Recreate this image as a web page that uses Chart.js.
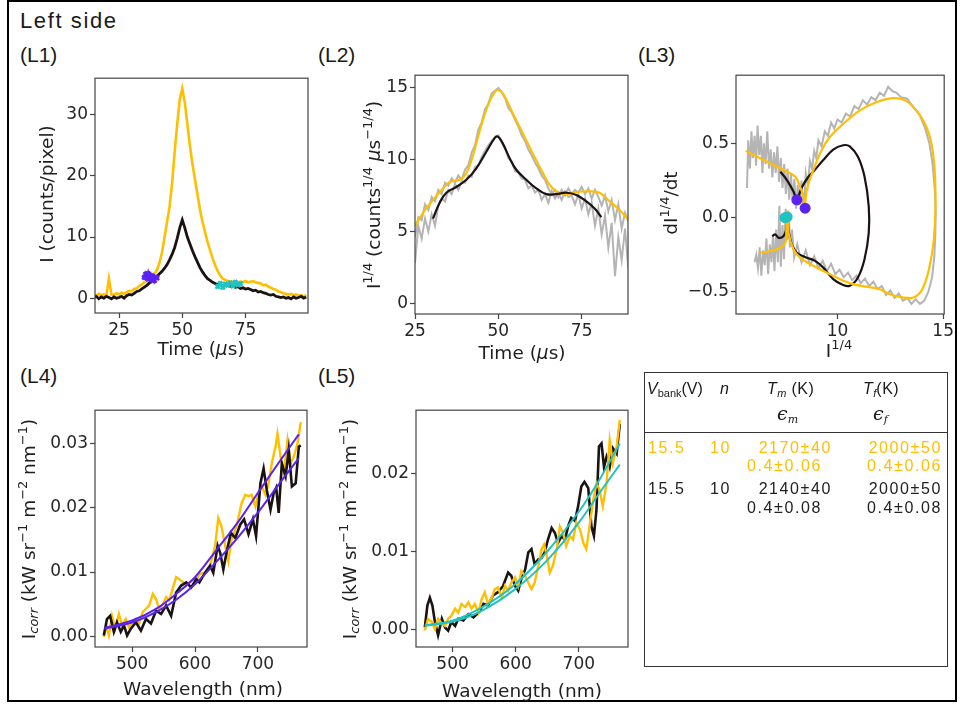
<!DOCTYPE html>
<html>
<head>
<meta charset="utf-8">
<script src="https://cdn.jsdelivr.net/npm/chart.js@4.4.1/dist/chart.umd.min.js"></script>
<style>
  body { margin: 0; background: #fff; }
  #fig { position: relative; width: 961px; height: 710px; background: #fff; overflow: hidden;
         font-family: "Liberation Sans", Arial, sans-serif; color: #1a1a1a; }
  #frame { position: absolute; left: 7px; top: 0; width: 950px; height: 702px;
           border: 2px solid #000; box-sizing: border-box; }
  canvas { position: absolute; }
  .lbl { position: absolute; font-size: 21px; line-height: 21px; white-space: nowrap; }
  #tbl { position: absolute; left: 644px; top: 372px; width: 304px; height: 295px;
         border: 1.5px solid #333; box-sizing: border-box; }
  #tbl .hline { position: absolute; left: 0; right: 0; top: 59px; border-top: 1.5px solid #333; }
  .t { position: absolute; font-size: 16px; line-height: 16px; letter-spacing: 1.6px; white-space: nowrap; }
  .yel { color: #ffbf00; }
  .blk { color: #222; }
  .eps { font-family: "DejaVu Serif", serif; font-style: italic; font-size: 19px; letter-spacing: 0; }
  sub { font-size: 11px; vertical-align: -3px; letter-spacing: 0; }
</style>
</head>
<body>
<div id="fig">
  <div id="frame"></div>
  <div class="lbl" style="left:20px;top:10px;font-size:22px;line-height:22px;letter-spacing:1.6px">Left side</div>
  <div class="lbl" style="left:20px;top:44px">(L1)</div>
  <div class="lbl" style="left:318px;top:44px">(L2)</div>
  <div class="lbl" style="left:638px;top:44px">(L3)</div>
  <div class="lbl" style="left:20px;top:365px">(L4)</div>
  <div class="lbl" style="left:318px;top:365px">(L5)</div>

  <div id="tbl"><div class="hline"></div></div>
  <div class="t" style="left:647px;top:381px;letter-spacing:0"><i>V</i><sub>bank</sub>(V)</div>
  <div class="t" style="left:720px;top:381px"><i>n</i></div>
  <div class="t" style="left:767px;top:381px;letter-spacing:0.5px"><i>T</i><sub><i>m</i></sub> (K)</div>
  <div class="t" style="left:863px;top:381px;letter-spacing:0.5px"><i>T</i><sub><i>f</i></sub>(K)</div>
  <div class="t eps" style="left:777px;top:405px">ϵ<sub><i>m</i></sub></div>
  <div class="t eps" style="left:873px;top:405px">ϵ<sub><i>f</i></sub></div>

  <div class="t yel" style="left:648px;top:440px">15.5</div>
  <div class="t yel" style="left:710px;top:440px">10</div>
  <div class="t yel" style="right:129px;top:440px">2170±40</div>
  <div class="t yel" style="right:139px;top:458px">0.4±0.06</div>
  <div class="t yel" style="right:19px;top:440px">2000±50</div>
  <div class="t yel" style="right:19px;top:458px">0.4±0.06</div>

  <div class="t blk" style="left:648px;top:481px">15.5</div>
  <div class="t blk" style="left:710px;top:481px">10</div>
  <div class="t blk" style="right:129px;top:481px">2140±40</div>
  <div class="t blk" style="right:139px;top:500px">0.4±0.08</div>
  <div class="t blk" style="right:19px;top:481px">2000±50</div>
  <div class="t blk" style="right:19px;top:500px">0.4±0.08</div>
</div>

<script>
// ---------- colours ----------
const YEL = '#ffbf00', BLK = '#1b1212', GRY = '#b4b4b4', PUR = '#5a22ee', CYA = '#22c2c2';

// ---------- L1: intensity vs time (1 us sampling from 15 us) ----------
const l1Time = Array.from({ length: 85 }, (_, i) => 15 + i);
const l1Yellow = [0.6, 0.4, 0.7, 0.5, 0.6, 0.4, 3.2, 0.6, 0.5, 0.8, 0.6, 0.9, 0.7, 1.0, 1.2, 1.1, 1.5, 1.6, 2.0, 2.2,
  2.6, 2.9, 3.3, 3.6, 4.0, 4.6, 5.8, 7.5, 10.0, 12.5, 15.0, 19.0, 24.0, 28.5, 32.5, 34.3, 32.0, 28.5, 25.0, 22.0,
  19.5, 17.0, 14.5, 12.5, 10.8, 9.2, 7.8, 6.5, 5.4, 4.4, 3.7, 3.2, 3.0, 2.8, 2.7, 2.6, 2.7, 2.5, 2.7, 2.6,
  2.8, 2.6, 2.7, 2.8, 2.6, 2.5, 2.4, 2.1, 2.2, 1.9, 1.7, 1.5, 1.4, 1.1, 1.0, 0.8, 0.7, 0.6, 0.7, 0.5,
  0.6, 0.4, 0.5, 0.3, 0.5];
const l1Black = [0.1, 0.3, -0.1, 0.2, 0.0, 0.3, 0.1, -0.1, 0.2, 0.0, 0.1, 0.3, 0.0, 0.4, 0.6, 0.5, 0.8, 1.1, 1.2, 1.5,
  1.8, 2.1, 2.5, 2.8, 3.2, 3.6, 4.0, 4.4, 4.9, 5.5, 6.3, 7.2, 8.3, 9.8, 11.5, 12.8, 11.5, 10.0, 8.9, 7.8,
  6.8, 5.9, 5.0, 4.3, 3.7, 3.2, 2.9, 2.6, 2.4, 2.2, 2.2, 2.1, 2.0, 2.1, 1.9, 2.0, 1.8, 1.9, 1.6, 1.7,
  1.5, 1.6, 1.4, 1.2, 1.3, 1.0, 1.1, 0.9, 0.8, 0.6, 0.5, 0.6, 0.3, 0.2, 0.1, 0.2, 0.0, 0.1, -0.1, 0.2,
  0.0, 0.1, 0.3, 0.0, 0.2];
const l1RiseT = [35, 35.5, 36, 36.5, 37, 37.5, 38, 38.5, 39, 39.5, 40];
const l1RiseI = [3.4, 3.9, 3.3, 4.0, 3.2, 3.7, 3.0, 3.5, 2.9, 3.4, 3.3];
const l1FallT = [64, 65, 66, 67, 68, 69, 70, 71, 72, 73];
const l1FallI = [1.9, 2.4, 1.8, 2.3, 2.1, 2.5, 2.0, 2.6, 2.2, 2.4];

// ---------- L2: I^(1/4) vs time ----------
const l2RawT = Array.from({ length: 65 }, (_, i) => 25 + i);
const l2RawYellow = [4.6, 6.0, 5.8, 6.9, 6.5, 7.4, 7.1, 7.9, 7.6, 8.4, 8.2, 8.7, 8.4, 8.9, 8.6, 9.3, 9.6, 10.5, 11.0, 12.1,
  12.6, 13.5, 13.9, 14.6, 14.8, 15.0, 14.7, 14.3, 13.6, 13.3, 12.8, 12.3, 11.7, 11.3, 10.7, 10.3, 9.8, 9.4, 8.9, 8.6,
  8.0, 7.6, 7.9, 7.4, 7.9, 7.5, 8.0, 7.6, 7.9, 7.7, 8.1, 7.6, 8.0, 7.3, 7.9, 7.4, 6.8, 7.5, 6.4, 7.2,
  5.8, 6.9, 5.2, 6.3, 5.7];
const l2RawBlack = [2.8, 5.4, 4.5, 5.9, 5.0, 6.2, 5.4, 6.8, 7.3, 7.1, 7.9, 7.6, 8.3, 7.9, 8.5, 8.4, 8.9, 8.8, 9.5, 9.6,
  10.2, 10.6, 11.0, 11.3, 11.6, 11.7, 11.2, 10.8, 10.1, 9.9, 9.2, 9.1, 8.7, 8.6, 8.0, 8.2, 7.7, 7.9, 7.2, 7.6,
  7.0, 7.8, 7.3, 7.7, 7.2, 7.8, 7.4, 7.5, 6.9, 7.6, 6.6, 7.3, 6.2, 7.0, 5.4, 6.6, 4.8, 6.1, 3.9, 5.6,
  1.9, 4.6, 3.0, 5.2, 2.4];
const l2FitYellowT = [25, 27.4, 30.4, 33.4, 35.4, 38.4, 40.4, 42.4, 44.4, 46.9, 48.9, 49.9, 51.4, 54.4, 57.4, 60.4,
  63.4, 65.4, 67.4, 70.4, 73.4, 77.4, 80.4, 83.4, 86.4, 88.9];
const l2FitYellow = [5.38, 6.3, 7.2, 8.0, 8.45, 8.6, 9.06, 10.3, 12.0, 13.8, 14.7, 14.85, 14.6, 13.2, 11.8, 10.4,
  9.06, 8.25, 7.8, 7.6, 7.75, 7.8, 7.7, 7.1, 6.5, 5.85];
const l2FitBlackT = [30.4, 32.4, 34.4, 37.4, 40.4, 43.4, 46.4, 48.9, 49.9, 51.4, 53.4, 55.4, 58.4, 61.4, 64.4, 67.4,
  70.4, 73.4, 76.4, 78.9, 80.9];
const l2FitBlack = [5.9, 7.0, 7.7, 8.1, 8.6, 9.4, 10.55, 11.5, 11.6, 11.1, 10.1, 9.3, 8.6, 8.0, 7.6, 7.6,
  7.7, 7.55, 7.1, 6.6, 6.0];

// ---------- L3: phase portrait dI^(1/4)/dt vs I^(1/4) ----------
const l3RawI = [5.72, 5.78, 5.86, 5.93, 6.0, 6.08, 6.15, 6.22, 6.3, 6.38, 6.45, 6.52, 6.6, 6.68, 6.76, 6.84, 6.92, 7.0,
  7.08, 7.16, 7.24, 7.32, 7.4, 7.48, 7.56, 7.64, 7.72, 7.8, 7.88, 7.96, 8.04, 8.12, 8.2, 8.3, 8.38, 8.45,
  8.5, 8.6, 8.7, 8.8, 8.9, 9.0, 9.1, 9.25, 9.4, 9.55, 9.7, 9.85, 10.0, 10.2, 10.4, 10.6, 10.8, 11.0, 11.2, 11.4,
  11.6, 11.8, 12.0, 12.2, 12.4, 12.6, 12.8, 13.0, 13.3, 13.6, 13.9, 14.15, 14.35, 14.5, 14.6, 14.65, 14.63, 14.58,
  14.48, 14.3, 14.1, 13.9, 13.7, 13.5, 13.3, 13.1, 12.9, 12.7, 12.5, 12.3, 12.1, 11.9, 11.7, 11.5, 11.3, 11.1,
  10.9, 10.7, 10.5, 10.3, 10.1, 9.9, 9.7, 9.5, 9.3, 9.1, 8.9, 8.7, 8.5, 8.3, 8.1, 7.95, 7.85, 7.75, 7.7, 7.62,
  7.55, 7.47, 7.4, 7.32, 7.25, 7.18, 7.1, 7.02, 6.95, 6.88, 6.8, 6.72, 6.64, 6.56, 6.48, 6.4, 6.32, 6.24, 6.16, 6.08];
const l3RawD = [0.20, 0.52, 0.33, 0.58, 0.40, 0.55, 0.35, 0.62, 0.42, 0.55, 0.30, 0.50, 0.36, 0.58, 0.33, 0.46, 0.27, 0.44,
  0.30, 0.48, 0.24, 0.40, 0.20, 0.36, 0.16, 0.33, 0.12, 0.30, 0.10, 0.26, 0.06, 0.22, 0.10, 0.25, 0.05, 0.16,
  0.30, 0.22, 0.38, 0.33, 0.45, 0.40, 0.52, 0.48, 0.58, 0.55, 0.64, 0.60, 0.66, 0.64, 0.70, 0.68, 0.75, 0.73, 0.79, 0.76,
  0.81, 0.79, 0.84, 0.82, 0.88, 0.85, 0.84, 0.81, 0.80, 0.74, 0.69, 0.60, 0.50, 0.36, 0.20, 0.05, -0.12, -0.27,
  -0.40, -0.50, -0.56, -0.58, -0.55, -0.58, -0.54, -0.56, -0.51, -0.54, -0.49, -0.52, -0.46, -0.48, -0.43, -0.46, -0.41, -0.44,
  -0.39, -0.42, -0.37, -0.40, -0.35, -0.38, -0.31, -0.36, -0.29, -0.34, -0.26, -0.32, -0.22, -0.30, -0.18, -0.27, -0.08, -0.20, 0.04, -0.15,
  0.06, -0.28, -0.05, -0.33, 0.08, -0.30, -0.08, -0.36, -0.12, -0.30, -0.18, -0.38, -0.14, -0.32, -0.22, -0.39, -0.20, -0.34, -0.25, -0.30];
const l3YellowI = [5.66, 6.67, 7.45, 8.0, 8.23, 8.39, 8.45, 8.55, 8.86, 9.25, 9.64, 10.27, 11.05, 11.83, 12.61, 13.23,
  13.86, 14.33, 14.56, 14.64, 14.56, 14.33, 14.02, 13.63, 13.08, 12.45, 11.98, 11.36, 10.73, 10.11, 9.48, 8.86,
  8.23, 7.92, 7.69, 7.66, 7.58, 7.53, 7.14, 6.36];
const l3YellowD = [0.449, 0.376, 0.32, 0.276, 0.209, 0.142, 0.076, 0.187, 0.32, 0.453, 0.542, 0.631, 0.72, 0.776, 0.804, 0.787,
  0.698, 0.564, 0.387, 0.12, -0.147, -0.347, -0.48, -0.536, -0.536, -0.513, -0.48, -0.464, -0.447, -0.413, -0.369, -0.324,
  -0.269, -0.213, -0.102, 0.042, -0.08, -0.169, -0.213, -0.236];
const l3BlackI = [7.3, 7.61, 7.92, 8.08, 8.3, 8.6, 8.86, 9.33, 9.8, 10.27, 10.58, 10.97, 11.28, 11.48, 11.48, 11.28,
  10.97, 10.58, 10.27, 9.8, 9.33, 8.94, 8.55, 8.08, 7.84, 7.69, 7.64, 7.58, 7.45, 7.22, 7.06, 6.91];
const l3BlackD = [0.309, 0.253, 0.176, 0.124, 0.2, 0.27, 0.31, 0.387, 0.458, 0.487, 0.48, 0.409, 0.276, 0.076, -0.102, -0.28,
  -0.402, -0.458, -0.453, -0.413, -0.336, -0.291, -0.269, -0.236, -0.18, -0.091, -0.013, -0.08, -0.124, -0.136, -0.113, -0.124];
const l3RiseI = [8.08, 8.47], l3RiseD = [0.12, 0.064];
const l3FallI = [7.52, 7.62], l3FallD = [0.0, 0.005];

// ---------- L4: corrected spectra, rising window ----------
const l4YellowW = [455, 459, 463, 468, 473, 479, 484, 490, 495, 500, 506, 511, 517, 522, 527, 533, 538, 543, 549, 554,
  559, 570, 575, 581, 586, 591, 597, 602, 607, 616, 624, 632, 637, 642, 648, 653, 658, 666, 674, 680,
  685, 690, 696, 701, 706, 712, 717, 722, 728, 731, 736, 741, 747, 752, 757, 763, 768];
const l4Yellow = [-0.0001, 0.0017, 0.00015, 0.0032, 0.0012, 0.0035, 0.0017, 0.0027, 0.0014, 0.0022, 0.0027, 0.0020, 0.0038,
  0.0043, 0.0048, 0.0066, 0.0058, 0.0043, 0.0050, 0.0061, 0.0056, 0.0092, 0.0089, 0.0084, 0.0079, 0.0084, 0.0089,
  0.0086, 0.0097, 0.0099, 0.0110, 0.0141, 0.0184, 0.0171, 0.0141, 0.0117, 0.0151, 0.0171, 0.0207, 0.0220, 0.0218,
  0.0220, 0.0202, 0.0225, 0.0233, 0.0220, 0.0238, 0.0269, 0.0295, 0.0315, 0.0279, 0.0254, 0.0305, 0.0269, 0.0279,
  0.0300, 0.0333];
const l4BlackW = [455, 460, 465, 471, 476, 482, 487, 492, 498, 506, 514, 522, 530, 538, 546, 554, 562, 570, 578, 586,
  594, 602, 607, 616, 624, 629, 636, 640, 645, 650, 657, 664, 672, 678, 685, 692, 697, 704, 709, 714,
  720, 725, 729, 733, 738, 744, 749, 754, 760, 765, 768];
const l4Black = [0.00015, 0.0027, 0.0032, 0.0007, 0.0022, 0.0007, 0.0017, 0.00015, 0.0012, 0.0022, 0.0009, 0.0027, 0.0020,
  0.0040, 0.0035, 0.0048, 0.0032, 0.0068, 0.0079, 0.0084, 0.0076, 0.0089, 0.0084, 0.0099, 0.0110, 0.0099, 0.0141,
  0.0130, 0.0104, 0.0130, 0.0161, 0.0153, 0.0174, 0.0182, 0.0159, 0.0182, 0.0156, 0.0238, 0.0261, 0.0228, 0.0197,
  0.0223, 0.0231, 0.0192, 0.0269, 0.0249, 0.0290, 0.0233, 0.0238, 0.0295, 0.0297];
const l4FitW = [456, 501, 540, 570, 600, 633, 670, 702, 733, 765];
const l4FitYellow = [0.0013, 0.0025, 0.0044, 0.0066, 0.0092, 0.0133, 0.0180, 0.0226, 0.0270, 0.0314];
const l4FitBlack = [0.0012, 0.0022, 0.0039, 0.0057, 0.0081, 0.0115, 0.0156, 0.0195, 0.0236, 0.0277];

// ---------- L5: corrected spectra, falling window ----------
const l5YellowW = [456, 461, 467, 472, 477, 483, 488, 493, 498, 504, 509, 514, 520, 525, 530, 535, 541, 546, 551, 556,
  562, 567, 572, 578, 583, 588, 593, 599, 604, 609, 615, 620, 625, 630, 636, 641, 645, 649, 654, 659,
  665, 670, 675, 680, 686, 691, 696, 702, 707, 712, 717, 723, 728, 733, 738, 744, 749, 754, 760, 765];
const l5Yellow = [-0.0001, 0.0014, 0.0010, 0.0001, 0.0014, 0.0008, 0.0005, 0.0014, 0.0018, 0.0027, 0.0022, 0.0033, 0.0029,
  0.0035, 0.0027, 0.0033, 0.0022, 0.0039, 0.0048, 0.0033, 0.0041, 0.0052, 0.0054, 0.0041, 0.0056, 0.0050, 0.0060,
  0.0067, 0.0056, 0.0075, 0.0069, 0.0060, 0.0052, 0.0060, 0.0082, 0.0103, 0.0109, 0.0096, 0.0073, 0.0082, 0.0103,
  0.0132, 0.0124, 0.0107, 0.0120, 0.0115, 0.0137, 0.0128, 0.0111, 0.0103, 0.0132, 0.0166, 0.0187, 0.0179, 0.0158,
  0.0187, 0.0242, 0.0213, 0.0234, 0.0268];
const l5BlackW = [456, 460, 464, 468, 472, 477, 483, 488, 493, 498, 504, 509, 517, 525, 533, 541, 549, 556, 564, 572,
  580, 588, 593, 599, 604, 609, 615, 620, 625, 630, 636, 641, 646, 651, 657, 662, 667, 673, 678, 683,
  688, 694, 699, 704, 709, 715, 720, 724, 728, 732, 736, 740, 744, 749, 754, 760, 765];
const l5Black = [0.0003, 0.0031, 0.0041, 0.0031, 0.0010, -0.0007, 0.0014, 0.0003, -0.0001, 0.0010, 0.0005, 0.0014, 0.0012,
  0.0020, 0.0016, 0.0022, 0.0033, 0.0031, 0.0044, 0.0048, 0.0056, 0.0073, 0.0069, 0.0056, 0.0050, 0.0065, 0.0077,
  0.0099, 0.0103, 0.0084, 0.0090, 0.0092, 0.0099, 0.0115, 0.0130, 0.0124, 0.0111, 0.0120, 0.0115, 0.0132, 0.0143,
  0.0139, 0.0158, 0.0183, 0.0189, 0.0181, 0.0132, 0.0120, 0.0153, 0.0234, 0.0238, 0.0208, 0.0221, 0.0208, 0.0232,
  0.0225, 0.0263];
const l5FitW = [456, 501, 543, 596, 649, 702, 733, 765];
const l5FitBlack = [0.00055, 0.0012, 0.0027, 0.0056, 0.0099, 0.0153, 0.0192, 0.0238];
const l5FitYellow = [0.0005, 0.00106, 0.0023, 0.0050, 0.0088, 0.0139, 0.0175, 0.0211];

// ---------- helpers ----------
const fig = document.getElementById('fig');
const TICK_FONT = { family: 'DejaVu Sans', size: 17 };

function pts(xs, ys) { return xs.map((x, i) => ({ x, y: ys[i] })); }

function line(xs, ys, color, width, extra) {
  return Object.assign({ data: pts(xs, ys), showLine: true, borderColor: color, backgroundColor: color,
    borderWidth: width, pointRadius: 0, tension: 0, fill: false }, extra || {});
}

function dots(xs, ys, color, r, extra) {
  return Object.assign({ data: pts(xs, ys), showLine: false, pointRadius: r, pointBorderWidth: 0,
    backgroundColor: color, borderColor: color }, extra || {});
}

// text with super/subscripts; parts = [[text, style]], style in '', 'it', 'sup', 'sub', 'subit'
function drawRich(ctx, parts, x, y, size, vertical) {
  const fontFor = st => {
    const small = st.includes('sup') || st.includes('sub');
    return (st.includes('it') ? 'italic ' : '') + (small ? size * 0.7 : size) + 'px "DejaVu Sans"';
  };
  ctx.save();
  ctx.translate(x, y);
  if (vertical) ctx.rotate(-Math.PI / 2);
  let w = 0;
  for (const [t, st] of parts) { ctx.font = fontFor(st); w += ctx.measureText(t).width; }
  let cx = -w / 2;
  ctx.fillStyle = '#1f1f1f';
  ctx.textBaseline = 'alphabetic';
  for (const [t, st] of parts) {
    ctx.font = fontFor(st);
    let dy = size * 0.36;
    if (st.includes('sup')) dy -= size * 0.42;
    if (st.includes('sub')) dy += size * 0.2;
    ctx.fillText(t, cx, dy);
    cx += ctx.measureText(t).width;
  }
  ctx.restore();
}

// spines round the plot area plus the two axis titles
const panelDeco = {
  id: 'panelDeco',
  afterDraw(chart, args, o) {
    const { ctx, chartArea: a } = chart;
    ctx.save();
    ctx.strokeStyle = '#444';
    ctx.lineWidth = 1.2;
    ctx.strokeRect(a.left, a.top, a.right - a.left, a.bottom - a.top);
    ctx.restore();
    drawRich(ctx, o.xTitle, o.xAt[0] - o.ox, o.xAt[1] - o.oy, 18.5, false);
    drawRich(ctx, o.yTitle, o.yAt[0] - o.ox, o.yAt[1] - o.oy, 18.5, true);
  }
};

function axis(range, ticks, fmt, fitProp, fitVal) {
  return {
    type: 'linear', min: range[0], max: range[1],
    afterBuildTicks: s => { s.ticks = ticks.map(v => ({ value: v })); },
    afterFit: s => { s[fitProp] = fitVal; },
    grid: { drawOnChartArea: false, drawTicks: true, tickLength: 5, tickWidth: 1.2, tickColor: '#444', color: '#444' },
    border: { display: false },
    ticks: { font: TICK_FONT, color: '#262626', padding: 2, autoSkip: false, maxRotation: 0, callback: v => fmt(v) }
  };
}

function makePanel(p) {
  const padL = 90, padR = 10, padT = 10, padB = 60;
  const ox = p.box[0] - padL, oy = p.box[1] - padT;
  const w = p.box[2] - p.box[0] + padL + padR, h = p.box[3] - p.box[1] + padT + padB;
  const cv = document.createElement('canvas');
  cv.width = w; cv.height = h;
  cv.style.left = ox + 'px'; cv.style.top = oy + 'px';
  cv.style.width = w + 'px'; cv.style.height = h + 'px';
  fig.insertBefore(cv, document.getElementById('tbl'));
  new Chart(cv, {
    type: 'scatter',
    data: { datasets: p.datasets },
    options: {
      responsive: false, animation: false, events: [],
      layout: { padding: { left: 0, top: padT, right: padR, bottom: 0 } },
      plugins: {
        legend: { display: false }, tooltip: { enabled: false },
        panelDeco: { ox, oy, xTitle: p.xTitle, yTitle: p.yTitle, xAt: p.xAt, yAt: p.yAt }
      },
      scales: {
        x: axis(p.xRange, p.xTicks, p.xFmt, 'height', padB),
        y: axis(p.yRange, p.yTicks, p.yFmt, 'width', padL)
      }
    },
    plugins: [panelDeco]
  });
}

const int = v => String(v);
const minus = s => s.replace('-', '\u2212');
const TIME = [['Time (', ''], ['\u03bc', 'it'], ['s)', '']];
const ICORR = [['I', ''], ['corr', 'subit'], [' (kW sr', ''], ['\u22121', 'sup'], [' m', ''], ['\u22122', 'sup'],
  [' nm', ''], ['\u22121', 'sup'], [')', '']];

// L1
makePanel({
  box: [95, 76, 308, 313], xRange: [15.5, 99.7], yRange: [-2.43, 36.0],
  xTicks: [25, 50, 75], yTicks: [0, 10, 20, 30], xFmt: int, yFmt: int,
  xTitle: TIME, xAt: [201, 348], yTitle: [['I (counts/pixel)', '']], yAt: [46, 194],
  datasets: [
    line(l1RiseT, l1RiseI, PUR, 3, { order: 0, pointRadius: 3, pointStyle: 'crossRot', pointBorderWidth: 2.5, borderColor: PUR }),
    line(l1FallT, l1FallI, CYA, 3, { order: 0, pointRadius: 3, pointStyle: 'crossRot', pointBorderWidth: 2.5, borderColor: CYA }),
    line(l1Time, l1Black, BLK, 2.8, { order: 2 }),
    line(l1Time, l1Yellow, YEL, 2.6, { order: 3 })
  ]
});

// L2
makePanel({
  box: [415, 73, 628, 314], xRange: [25, 88.9], yRange: [-0.74, 15.88],
  xTicks: [25, 50, 75], yTicks: [0, 5, 10, 15], xFmt: int, yFmt: int,
  xTitle: TIME, xAt: [522, 352],
  yTitle: [['I', ''], ['1/4', 'sup'], [' (counts', ''], ['1/4', 'sup'], [' ', ''], ['\u03bc', 'it'], ['s', ''],
    ['\u22121/4', 'sup'], [')', '']],
  yAt: [373, 195],
  datasets: [
    line(l2FitBlackT, l2FitBlack, BLK, 2.2, { order: 1, tension: 0.4 }),
    line(l2FitYellowT, l2FitYellow, YEL, 2.2, { order: 2, tension: 0.4 }),
    line(l2RawT, l2RawBlack, GRY, 2, { order: 5 }),
    line(l2RawT, l2RawYellow, GRY, 2, { order: 6 })
  ]
});

// L3
makePanel({
  box: [736, 73, 946, 314], xRange: [5.2, 15.05], yRange: [-0.648, 0.958],
  xTicks: [10, 15], yTicks: [-0.5, 0, 0.5], xFmt: int, yFmt: v => minus(v.toFixed(1)),
  xTitle: [['I', ''], ['1/4', 'sup']], xAt: [839, 350],
  yTitle: [['dI', ''], ['1/4', 'sup'], ['/dt', '']], yAt: [670, 203],
  datasets: [
    dots(l3RiseI, l3RiseD, PUR, 5.5, { order: 0 }),
    dots(l3FallI, l3FallD, CYA, 5.5, { order: 0 }),
    line(l3BlackI, l3BlackD, BLK, 2.2, { order: 2, tension: 0.35 }),
    line(l3YellowI, l3YellowD, YEL, 2.2, { order: 1, tension: 0.35 }),
    line(l3RawI, l3RawD, GRY, 2, { order: 5 })
  ]
});

// L4
makePanel({
  box: [95, 408, 307, 647], xRange: [441, 778], yRange: [-0.00165, 0.03516],
  xTicks: [500, 600, 700], yTicks: [0, 0.01, 0.02, 0.03], xFmt: int, yFmt: v => v.toFixed(2),
  xTitle: [['Wavelength (nm)', '']], xAt: [203, 688], yTitle: ICORR, yAt: [28, 529],
  datasets: [
    line(l4FitW, l4FitYellow, PUR, 2, { order: 0, cubicInterpolationMode: 'monotone' }),
    line(l4FitW, l4FitBlack, PUR, 2, { order: 0, cubicInterpolationMode: 'monotone' }),
    line(l4BlackW, l4Black, BLK, 2.6, { order: 2 }),
    line(l4YellowW, l4Yellow, YEL, 2.4, { order: 3 })
  ]
});

// L5
makePanel({
  box: [416, 408, 628, 647], xRange: [442, 778], yRange: [-0.0022, 0.02805],
  xTicks: [500, 600, 700], yTicks: [0, 0.01, 0.02], xFmt: int, yFmt: v => v.toFixed(2),
  xTitle: [['Wavelength (nm)', '']], xAt: [522, 690], yTitle: ICORR, yAt: [349, 529],
  datasets: [
    line(l5FitW, l5FitBlack, CYA, 2, { order: 0, cubicInterpolationMode: 'monotone' }),
    line(l5FitW, l5FitYellow, CYA, 2, { order: 0, cubicInterpolationMode: 'monotone' }),
    line(l5YellowW, l5Yellow, YEL, 2.4, { order: 2 }),
    line(l5BlackW, l5Black, BLK, 2.6, { order: 3 })
  ]
});
</script>
</body>
</html>
